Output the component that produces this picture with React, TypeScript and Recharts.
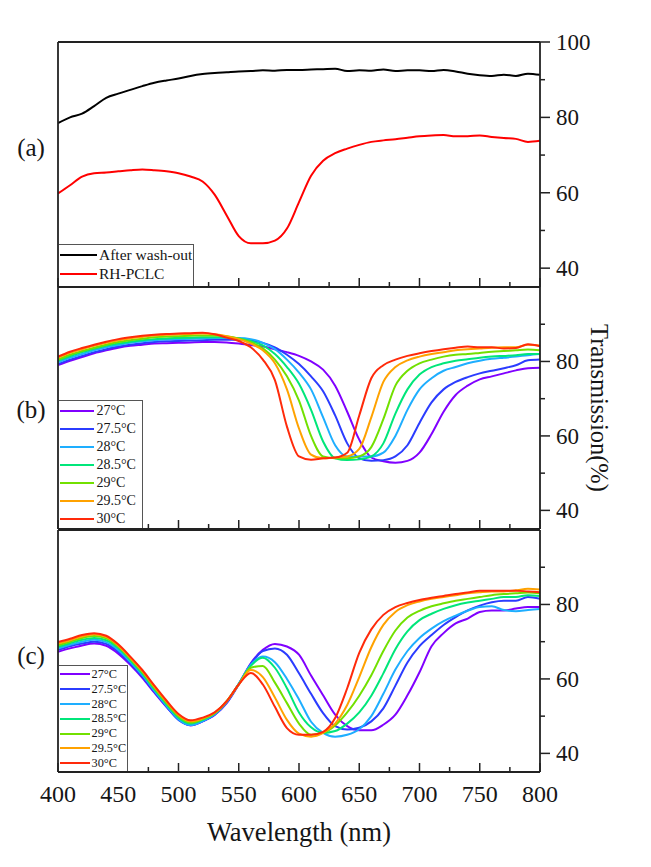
import React from 'react';
import { LineChart, Line, XAxis, YAxis, Legend, Label } from 'recharts';

const SERIF = '"Liberation Serif", "Times New Roman", serif';
const FRAME = '#222';
const TEXT = '#161616';

// wavelength grid (nm)
const wavelengths = [
  400, 410, 420, 430, 440, 450, 460, 470, 480, 490,
  500, 510, 520, 530, 540, 550, 560, 570, 580, 590,
  600, 610, 620, 630, 640, 650, 660, 670, 680, 690,
  700, 710, 720, 730, 740, 750, 760, 770, 780, 790,
  800,
];

// (a)
const afterWashOut = [
  78.5, 80, 81, 83, 85.2, 86.3, 87.3, 88.3, 89.2, 89.8,
  90.3, 91, 91.5, 91.8, 92, 92.2, 92.3, 92.5, 92.4, 92.6,
  92.6, 92.7, 92.8, 92.9, 92.3, 92.5, 92.4, 92.7, 92.3, 92.5,
  92.5, 92.3, 92.6, 92.2, 91.6, 91.2, 91, 91.3, 91, 91.6,
  91.3,
];
const rhPclc = [
  59.8, 62, 64.3, 65.2, 65.4, 65.7, 66, 66.2, 66, 65.7,
  65.2, 64.3, 63, 59.5, 54, 48.5, 46.6, 46.6, 47.3, 50.5,
  57.5, 64.5, 68.5, 70.5, 71.7, 72.7, 73.5, 73.9, 74.2, 74.6,
  75, 75.2, 75.3, 75, 75, 75.2, 74.8, 74.5, 74.3, 73.5,
  73.8,
];

const tempLabels = ['27°C', '27.5°C', '28°C', '28.5°C', '29°C', '29.5°C', '30°C'];
const tempColors = ['#8000ff', '#2b3cff', '#1eaeff', '#00e67a', '#72e000', '#ffa200', '#ff2a0a'];

// (b)
const b27 = [
  79, 80.2, 81.2, 82.2, 83, 83.7, 84.2, 84.5, 84.8, 84.9,
  85, 85.1, 85.2, 85.2, 85.1, 84.8, 84.4, 84, 83.3, 82.5,
  81.5, 80, 77.8, 73.5, 66.5, 59, 54.2, 53.2, 52.8, 53.3,
  55.5, 60.5, 66.5, 71, 73.5, 75.2, 76, 76.8, 77.6, 78.2,
  78.3,
];
const b27_5 = [
  79.3, 80.5, 81.5, 82.5, 83.3, 84, 84.5, 84.9, 85.2, 85.4,
  85.5, 85.6, 85.7, 85.8, 85.8, 85.8, 85.6, 85, 83.8, 81.8,
  79.3, 76, 72, 65.5, 58, 54, 53.3, 53.5, 54.5, 57.5,
  63.5, 69, 72.5, 74.5, 75.8, 76.8, 77.5, 78.2, 79, 80.3,
  80.5,
];
const b28 = [
  79.8, 81, 82, 83, 83.8, 84.4, 85, 85.4, 85.7, 85.9,
  86, 86.1, 86.2, 86.3, 86.3, 86.3, 86, 85, 83.3, 80.5,
  77, 72.5, 65, 57.5, 54.5, 54.5, 54.5, 55.5, 60, 67,
  72.5, 75.5, 77.5, 78.5, 79.5, 80.2, 80.7, 81, 81.3, 81.7,
  82,
];
const b28_5 = [
  80.2, 81.4, 82.5, 83.4, 84.2, 84.8, 85.3, 85.7, 86, 86.2,
  86.3, 86.4, 86.5, 86.5, 86.5, 86.2, 85.5, 84.3, 82, 78.5,
  74, 67, 58.5, 54, 53.5, 53.7, 54.5, 58, 66, 72.5,
  76.5, 78.5, 79.5, 80.2, 80.6, 81, 81.3, 81.5, 81.7, 82,
  82,
];
const b29 = [
  80.5, 81.8, 82.8, 83.7, 84.5, 85.2, 85.7, 86.1, 86.5, 86.7,
  86.8, 86.9, 87, 87, 86.8, 86.2, 85.2, 83.5, 80.5, 76,
  69.5, 60, 54.5, 54, 54, 54.5, 57, 64.5, 73.5, 77.5,
  79.5, 80.5, 81.3, 81.8, 82, 82.3, 82.6, 82.8, 83, 83.2,
  83,
];
const b29_5 = [
  81, 82.3, 83.3, 84.2, 85, 85.7, 86.2, 86.6, 87, 87.2,
  87.3, 87.4, 87.5, 87.3, 86.8, 86, 84.8, 83, 79.5, 72.5,
  62, 55, 54, 54.2, 54.5, 56.5, 65, 74.5, 78.5, 80.3,
  81.3, 82, 82.5, 83, 83.3, 83.5, 83.7, 83.8, 83.8, 84.5,
  84.3,
];
const b30 = [
  81.3, 82.6, 83.6, 84.5, 85.3, 86, 86.5, 86.9, 87.2, 87.4,
  87.5, 87.6, 87.7, 87.3, 86.4, 85.5, 83.8, 80.5, 75, 62.5,
  54.5, 53.6, 54, 54.2, 55.5, 65.5, 75.5, 79, 80.5, 81.5,
  82.2, 82.8, 83.3, 83.7, 84, 83.8, 83.8, 83.5, 83.6, 84.6,
  84.1,
];

// (c)
const c27 = [
  67.3, 68.2, 69, 69.5, 68.9, 66.8, 63.8, 60.3, 56.3, 52.5,
  49.2, 47.5, 48.6, 50.3, 53.5, 58.5, 64.2, 67.8, 69.4, 68.7,
  66.5, 60.9, 55.6, 50.4, 47.3, 46.2, 46.2, 47.7, 50.4, 55.6,
  61.8, 68.8, 72.3, 74.9, 76.2, 78, 78.4, 78.4, 78.9, 79.3,
  79.3,
];
const c27_5 = [
  67.8, 68.8, 69.5, 70, 69.4, 67.3, 64.2, 60.6, 56.5, 52.6,
  49, 47.6, 48.6, 50.4, 53.6, 58.7, 64, 67.5, 68.2, 66.5,
  61.5, 56, 50.8, 47.3, 46.4, 46.9, 48.6, 52.1, 58.2, 64.4,
  68.8, 71.8, 74.5, 76.6, 78.4, 79.7, 80.6, 81, 81, 82,
  81.5,
];
const c28 = [
  68.2, 69.2, 70, 70.5, 69.9, 67.8, 64.6, 61, 56.8, 52.8,
  49.2, 47.6, 48.7, 50.5, 53.8, 58.7, 63.8, 66, 64.5, 60,
  54.5, 48.5, 45.5, 44.5, 45, 46.5, 50, 56, 62.5, 67.5,
  71, 73.5, 75.5, 77, 78.3, 79.3, 79.5, 78.5, 78.2, 78.5,
  78.8,
];
const c28_5 = [
  68.6, 69.6, 70.5, 71, 70.4, 68.3, 65, 61.4, 57.2, 53.2,
  49.6, 48, 49, 50.7, 54, 58.6, 63.5, 65.7, 63, 57.5,
  51, 47, 45.5, 46, 48, 51, 55.5, 61.5, 68, 72.8,
  75.8, 77.5, 78.8, 79.8, 80.5, 81, 81.5, 82, 82, 82.5,
  82.3,
];
const c29 = [
  69, 70, 71, 71.5, 70.9, 68.7, 65.4, 61.8, 57.6, 53.6,
  50, 48.3, 49.2, 50.8, 54, 58.5, 63, 63.5, 59, 53.5,
  48, 45, 45.5, 47.5, 51, 55.5, 61, 67.5, 73, 76.5,
  78.3, 79.5, 80.3, 81, 81.5, 82, 82.5, 82.8, 83, 83.2,
  83,
];
const c29_5 = [
  69.5, 70.4, 71.4, 72, 71.3, 69, 65.7, 62.1, 57.9, 53.9,
  50.3, 48.6, 49.4, 50.9, 54, 58.5, 62.4, 60.5, 55, 49,
  45.3, 44.5, 45.5, 48, 53, 60.5, 68.5, 74.5, 78, 79.8,
  80.8, 81.5, 82, 82.5, 83, 83.3, 83.5, 83.5, 83.8, 84.2,
  84,
];
const c30 = [
  69.9, 70.8, 71.8, 72.3, 71.6, 69.3, 66, 62.4, 58.2, 54.2,
  50.6, 48.9, 49.6, 51, 54, 58.5, 61.6, 58.5, 52.5, 46.8,
  45, 45, 45.8, 49.5, 57.5, 67, 73.3, 77.2, 79.3, 80.4,
  81.2, 81.8, 82.3, 82.8, 83.2, 83.7, 83.7, 83.7, 83.7, 83.5,
  83.3,
];

const xTicks = [400, 425, 450, 475, 500, 525, 550, 575, 600, 625, 650, 675, 700, 725, 750, 775, 800];
const yTicksA = [40, 50, 60, 70, 80, 90, 100];
const yTicksBC = [40, 50, 60, 70, 80, 90];

interface SeriesDef {
  key: string;
  name: string;
  color: string;
  values: number[];
}

const seriesA: SeriesDef[] = [
  { key: 'wash', name: 'After wash-out', color: '#000000', values: afterWashOut },
  { key: 'rh', name: 'RH-PCLC', color: '#ff0000', values: rhPclc },
];
const tempSeries = (vals: number[][], prefix: string): SeriesDef[] =>
  vals.map((v, i) => ({ key: `${prefix}${i}`, name: tempLabels[i], color: tempColors[i], values: v }));
const seriesB = tempSeries([b27, b27_5, b28, b28_5, b29, b29_5, b30], 'b');
const seriesC = tempSeries([c27, c27_5, c28, c28_5, c29, c29_5, c30], 'c');

function toRows(series: SeriesDef[]) {
  return wavelengths.map((wl, i) => {
    const row: Record<string, number> = { wl };
    series.forEach((s) => {
      row[s.key] = s.values[i];
    });
    return row;
  });
}

const textStyle = (size: number) => ({ fontFamily: SERIF, fontSize: size, fill: TEXT });

function XTick(props: any) {
  const { x, y, payload, showLabel } = props;
  const major = payload.value % 50 === 0;
  return (
    <g>
      <line x1={x} x2={x} y1={y} y2={y - (major ? 9 : 5)} stroke={FRAME} strokeWidth={1.5} />
      {showLabel && major && (
        <text x={x} y={y + 30} textAnchor="middle" style={textStyle(24)}>
          {payload.value}
        </text>
      )}
    </g>
  );
}

function YTick(props: any) {
  const { x, y, payload } = props;
  const major = payload.value % 20 === 0;
  return (
    <g>
      <line x1={x} x2={x + (major ? 10 : 5)} y1={y} y2={y} stroke={FRAME} strokeWidth={1.5} />
      {major && (
        <text x={x + 16} y={y + 8} style={textStyle(23)}>
          {payload.value}
        </text>
      )}
    </g>
  );
}

interface LegendSpec {
  top: number;
  width: number;
  rowH: number;
  fontSize: number;
  lineW: number;
  gap: number;
}

function LegendBox({ series, spec, height }: { series: SeriesDef[]; spec: LegendSpec; height: number }) {
  return (
    <div
      style={{
        width: spec.width,
        height,
        boxSizing: 'border-box',
        borderTop: '1px solid #555',
        borderRight: '1px solid #555',
        background: '#fff',
        paddingTop: 0.5,
        fontFamily: SERIF,
      }}
    >
      {series.map((s) => (
        <div key={s.key} style={{ display: 'flex', alignItems: 'center', height: spec.rowH }}>
          <span
            style={{
              display: 'inline-block',
              width: spec.lineW,
              height: 2,
              background: s.color,
              marginLeft: 1,
              marginRight: spec.gap,
            }}
          />
          <span style={{ fontSize: spec.fontSize, lineHeight: 1, color: TEXT, whiteSpace: 'nowrap' }}>{s.name}</span>
        </div>
      ))}
    </div>
  );
}

interface PanelProps {
  top: number;
  height: number;
  marginTop: number;
  marginBottom: number;
  series: SeriesDef[];
  yTicks: number[];
  tag: string;
  tagY: number;
  legend: LegendSpec;
  xLabels?: boolean;
  yTitle?: boolean;
}

function Panel(p: PanelProps) {
  const data = toRows(p.series);
  const plotBottom = p.top + p.height - p.marginBottom - 1;
  const legendH = plotBottom - p.legend.top - 1;
  const axisLine = { stroke: FRAME, strokeWidth: 1.8 };
  return (
    <div style={{ position: 'absolute', left: 0, top: p.top }}>
      <LineChart
        width={651}
        height={p.height}
        data={data}
        margin={{ top: p.marginTop, right: 51, bottom: p.marginBottom, left: 57 }}
      >
        <XAxis
          dataKey="wl"
          type="number"
          domain={[400, 800]}
          ticks={xTicks}
          interval={0}
          height={1}
          tickSize={0}
          tickMargin={0}
          tickLine={false}
          axisLine={axisLine}
          allowDataOverflow
          tick={(t: any) => <XTick {...t} showLabel={p.xLabels} />}
        >
          {p.xLabels && (
            <Label
              content={(lp: any) => (
                <text
                  x={lp.viewBox.x + lp.viewBox.width / 2}
                  y={lp.viewBox.y + 69}
                  textAnchor="middle"
                  style={textStyle(26.5)}
                >
                  Wavelength (nm)
                </text>
              )}
            />
          )}
        </XAxis>
        <XAxis
          xAxisId="top"
          orientation="top"
          dataKey="wl"
          type="number"
          domain={[400, 800]}
          height={1}
          tick={false}
          tickLine={false}
          axisLine={axisLine}
        />
        <YAxis
          orientation="right"
          type="number"
          domain={[35, 100]}
          ticks={p.yTicks}
          interval={0}
          width={60}
          tickSize={0}
          tickMargin={0}
          tickLine={false}
          axisLine={axisLine}
          allowDataOverflow
          tick={(t: any) => <YTick {...t} />}
        >
          {p.yTitle && (
            <Label
              content={(lp: any) => {
                const cx = lp.viewBox.x + 59;
                const cy = lp.viewBox.y + lp.viewBox.height / 2;
                return (
                  <text
                    x={cx}
                    y={cy}
                    transform={`rotate(90, ${cx}, ${cy})`}
                    textAnchor="middle"
                    dominantBaseline="central"
                    style={textStyle(24.5)}
                  >
                    Transmission(%)
                  </text>
                );
              }}
            />
          )}
        </YAxis>
        <YAxis
          yAxisId="left"
          orientation="left"
          type="number"
          domain={[35, 100]}
          width={1}
          tick={false}
          tickLine={false}
          axisLine={axisLine}
        >
          <Label
            content={() => (
              <text
                x={31}
                y={p.tagY - p.top}
                textAnchor="middle"
                dominantBaseline="central"
                style={textStyle(25)}
              >
                {p.tag}
              </text>
            )}
          />
        </YAxis>
        <Legend
          layout="vertical"
          align="center"
          verticalAlign="middle"
          wrapperStyle={{
            left: 59,
            top: p.legend.top - p.top,
            width: p.legend.width,
            height: legendH,
            margin: 0,
            padding: 0,
          }}
          content={() => <LegendBox series={p.series} spec={p.legend} height={legendH} />}
        />
        {p.series.map((s) => (
          <Line
            key={s.key}
            type="monotone"
            dataKey={s.key}
            name={s.name}
            stroke={s.color}
            strokeWidth={2}
            dot={false}
            activeDot={false}
            isAnimationActive={false}
          />
        ))}
      </LineChart>
    </div>
  );
}

export default function App() {
  return (
    <div style={{ position: 'absolute', left: 0, top: 0, width: 651, height: 867, background: '#fff' }}>
      <Panel
        top={0}
        height={297}
        marginTop={41}
        marginBottom={9}
        series={seriesA}
        yTicks={yTicksA}
        tag="(a)"
        tagY={147}
        legend={{ top: 244, width: 135, rowH: 19, fontSize: 15.5, lineW: 37, gap: 2 }}
      />
      <Panel
        top={277}
        height={262}
        marginTop={9}
        marginBottom={9}
        series={seriesB}
        yTicks={yTicksBC}
        tag="(b)"
        tagY={409}
        yTitle
        legend={{ top: 400, width: 84, rowH: 18, fontSize: 14, lineW: 34, gap: 2.5 }}
      />
      <Panel
        top={520}
        height={347}
        marginTop={9}
        marginBottom={94}
        series={seriesC}
        yTicks={yTicksBC}
        tag="(c)"
        tagY={655}
        xLabels
        legend={{ top: 665, width: 69, rowH: 14.9, fontSize: 12.3, lineW: 30, gap: 1.5 }}
      />
    </div>
  );
}
